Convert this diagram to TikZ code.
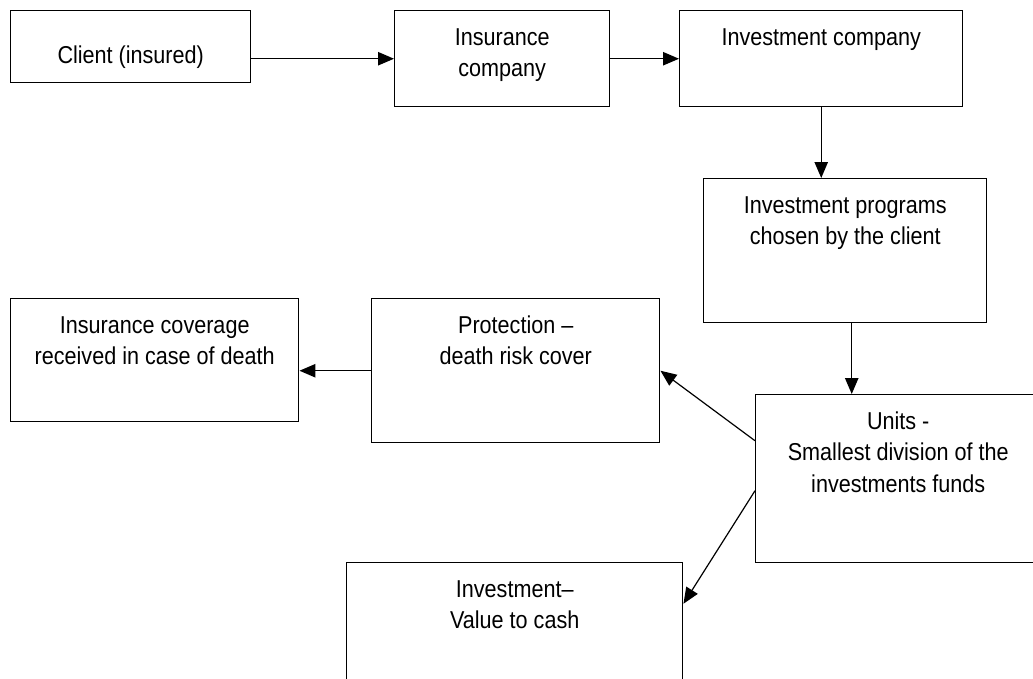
\documentclass[tikz,border=0pt]{standalone}
\usepackage{fontspec}
\setmainfont{Liberation Sans}[FakeStretch=0.885]
\usetikzlibrary{positioning, arrows.meta}

\tikzset{
    box/.style={draw, line width=1.1pt, inner sep=0pt, anchor=north west},
    txt/.style={align=center, inner sep=0pt, font=\fontsize{18.3pt}{23.6pt}\selectfont},
    arr/.style={-{Triangle[length=12pt,width=10pt]}, line width=1.1pt},
    thinarr/.style={arr, line width=0.9pt},
}

\begin{document}
\begin{tikzpicture}[x=0.75pt, y=-0.75pt]

    \def\px{0.75pt}   % one pixel
    \def\gap{9.75pt}  % top of box to top of text

    \useasboundingbox (0,0) rectangle (1033,679);
    \clip (0,0) rectangle (1033,679);

    % Boxes, top row
    \node[box, minimum width=240*\px, minimum height=72*\px] (client) at (10,10) {};
    \node[box, minimum width=215*\px, minimum height=96*\px] (insur) at (394,10) {};
    \node[box, minimum width=283*\px, minimum height=96*\px] (invco) at (679,10) {};

    % Boxes, right column
    \node[box, minimum width=283*\px, minimum height=144*\px] (prog) at (703,178) {};
    \node[box, minimum width=285*\px, minimum height=168*\px] (units) at (755,394) {};

    % Boxes, lower left
    \node[box, minimum width=288*\px, minimum height=123*\px] (cover) at (10,298) {};
    \node[box, minimum width=288*\px, minimum height=144*\px] (prot) at (371,298) {};
    \node[box, minimum width=336*\px, minimum height=128*\px] (invest) at (346,562) {};

    % Texts
    \node[txt, below=23.5pt of client.north] {\strut Client (insured)};
    \node[txt, below=\gap of insur.north] {\strut Insurance\\company};
    \node[txt, below=\gap of invco.north] {\strut Investment company};
    \node[txt, below=\gap of prog.north] {\strut Investment programs\\chosen by the client};
    \node[txt, below=\gap of units.north] {\strut Units -\\Smallest division of the\\investments funds};
    \node[txt, below=\gap of cover.north] {\strut Insurance coverage\\received in case of death};
    \node[txt, below=\gap of prot.north] {\strut Protection --\\death risk cover};
    \node[txt, below=\gap of invest.north] {\strut Investment--\\Value to cash};

    % Arrows
    \coordinate (p1) at ([xshift=6.5*\px]prog.south);
    \draw[arr] (client.east |- insur.west) -- (insur.west);
    \draw[arr] (insur) -- (invco);
    \draw[arr] (invco.south) -- (invco.south |- prog.north);
    \draw[arr] (p1) -- (p1 |- units.north);
    \draw[arr] (prot.west) -- (prot.west -| cover.east);
    \draw[thinarr] ([yshift=38*\px]units.west) -- (prot.east);
    \draw[thinarr] ([yshift=-12*\px]units.west) -- ([yshift=23*\px]invest.east);

\end{tikzpicture}
\end{document}
